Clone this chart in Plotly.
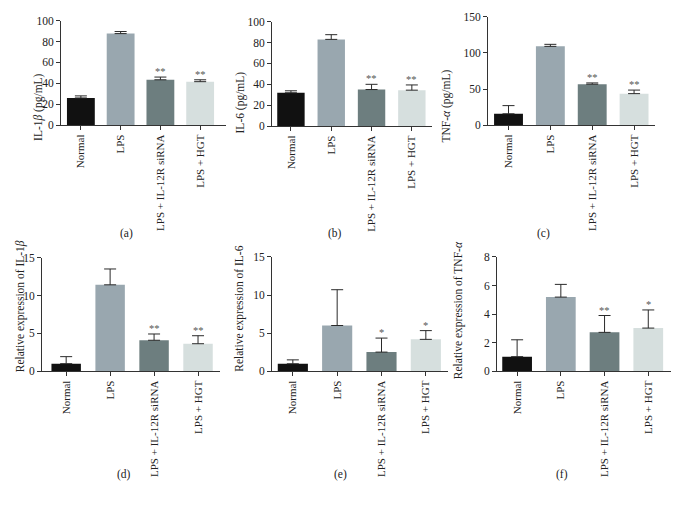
import plotly.graph_objects as go

W, H = 678, 511

categories = ["Normal", "LPS", "LPS + IL-12R siRNA", "LPS + HGT"]
colors = ["#111111", "#99a7af", "#6d7e7f", "#d6dfde"]

# Panel values (mean) and upper error (SD)
il1b_protein = [26.0, 87.6, 43.4, 41.6]
il1b_protein_err = [2.0, 2.0, 2.6, 1.8]
il6_protein = [31.9, 83.0, 35.0, 34.4]
il6_protein_err = [1.9, 4.5, 5.0, 5.0]
tnfa_protein = [15.7, 109.0, 56.6, 43.6]
tnfa_protein_err = [11.3, 2.8, 1.8, 4.9]
il1b_mrna = [1.0, 11.44, 4.1, 3.64]
il1b_mrna_err = [0.93, 2.1, 0.83, 1.06]
il6_mrna = [0.98, 6.0, 2.51, 4.18]
il6_mrna_err = [0.51, 4.7, 1.84, 1.15]
tnfa_mrna = [1.02, 5.19, 2.72, 3.02]
tnfa_mrna_err = [1.18, 0.89, 1.18, 1.27]

stars_a = ["", "", "**", "**"]
stars_b = ["", "", "**", "**"]
stars_c = ["", "", "**", "**"]
stars_d = ["", "", "**", "**"]
stars_e = ["", "", "*", "*"]
stars_f = ["", "", "**", "*"]

y_titles = ["IL-1<i>β</i> (pg/mL)", "IL-6 (pg/mL)", "TNF-<i>α</i> (pg/mL)",
            "Relative expression of IL-1<i>β</i>", "Relative expression of IL-6",
            "Relative expression of TNF-<i>α</i>"]
panel_labels = ["(a)", "(b)", "(c)", "(d)", "(e)", "(f)"]

y_ranges = [[0, 100], [0, 100], [0, 150], [0, 15], [0, 15], [0, 8]]
y_ticks = [[0, 20, 40, 60, 80, 100], [0, 20, 40, 60, 80, 100], [0, 50, 100, 150],
           [0, 5, 10, 15], [0, 5, 10, 15], [0, 2, 4, 6, 8]]

# layout geometry in pixels: (x_left, x_right, y_top, y_bottom, xrange, bar width)
geom = [
    (61, 226, 15, 122, [-0.5, 3.65], 0.70),
    (272, 432, 16, 123, [-0.47, 3.5], 0.68),
    (488, 655, 11, 122, [-0.49, 3.5], 0.69),
    (42, 220, 258, 374, [-0.55, 3.5], 0.67),
    (272, 448, 257, 374, [-0.47, 3.5], 0.68),
    (497, 671, 257, 374, [-0.46, 3.52], 0.68),
]
ytitle_pos = [(30, 67), (240, 65), (455, 63), (12, 308), (240, 310), (467, 312)]
label_pos = [(118, 233), (335, 233), (552, 233), (115, 488), (340, 488), (570, 488)]

data = [(il1b_protein, il1b_protein_err, stars_a), (il6_protein, il6_protein_err, stars_b),
        (tnfa_protein, tnfa_protein_err, stars_c), (il1b_mrna, il1b_mrna_err, stars_d),
        (il6_mrna, il6_mrna_err, stars_e), (tnfa_mrna, tnfa_mrna_err, stars_f)]

FONT = "Liberation Serif"
fig = go.Figure()
annotations = []
layout = {}
for i, ((vals, errs, stars), g) in enumerate(zip(data, geom)):
    n = i + 1
    xa = "x" if n == 1 else f"x{n}"
    ya = "y" if n == 1 else f"y{n}"
    x0, x1, yt, yb, xr, bw = g
    fig.add_trace(go.Bar(
        x=list(range(4)), y=vals, xaxis=xa, yaxis=ya, width=bw,
        marker=dict(color=colors, line=dict(width=0)),
        error_y=dict(type="data", symmetric=False, array=errs, arrayminus=[0] * 4,
                     color="#2a2a2a", thickness=1, width=6),
        showlegend=False, hoverinfo="skip"))
    layout[f"xaxis{'' if n == 1 else n}"] = dict(
        domain=[x0 / W, x1 / W], range=xr, anchor=ya,
        tickmode="array", tickvals=list(range(4)), ticktext=categories,
        tickangle=-90, ticks="outside", ticklen=4, tickwidth=1, tickcolor="#333",
        showline=True, linecolor="#333", linewidth=1, showgrid=False, zeroline=False,
        tickfont=dict(family=FONT, size=11, color="#222"), fixedrange=True)
    layout[f"yaxis{'' if n == 1 else n}"] = dict(
        domain=[1 - yb / H, 1 - yt / H], range=y_ranges[i], anchor=xa,
        tickmode="array", tickvals=y_ticks[i],
        ticks="outside", ticklen=4, tickwidth=1, tickcolor="#333",
        showline=True, linecolor="#333", linewidth=1, showgrid=False, zeroline=False,
        tickfont=dict(family=FONT, size=11.5, color="#222"), fixedrange=True)
    for k in range(4):
        if stars[k]:
            annotations.append(dict(x=k, y=vals[k] + errs[k], xref=xa, yref=ya,
                                    text=stars[k], showarrow=False, yanchor="bottom",
                                    yshift=-2, font=dict(family=FONT, size=10.5, color="#555")))
    tx, ty = ytitle_pos[i]
    annotations.append(dict(x=tx / W, y=1 - ty / H, xref="paper", yref="paper",
                            text=y_titles[i], showarrow=False, textangle=-90,
                            font=dict(family=FONT, size=11.5, color="#222")))
    lx, ly = label_pos[i]
    annotations.append(dict(x=lx / W, y=1 - ly / H, xref="paper", yref="paper",
                            text=panel_labels[i], showarrow=False,
                            font=dict(family=FONT, size=11.5, color="#222")))

fig.update_layout(width=W, height=H, margin=dict(l=0, r=0, t=0, b=0),
                  plot_bgcolor="white", paper_bgcolor="white",
                  annotations=annotations, **layout)
fig.write_html("out.html", config={"displayModeBar": False, "staticPlot": True},
               post_script="document.body.style.margin='0';")
